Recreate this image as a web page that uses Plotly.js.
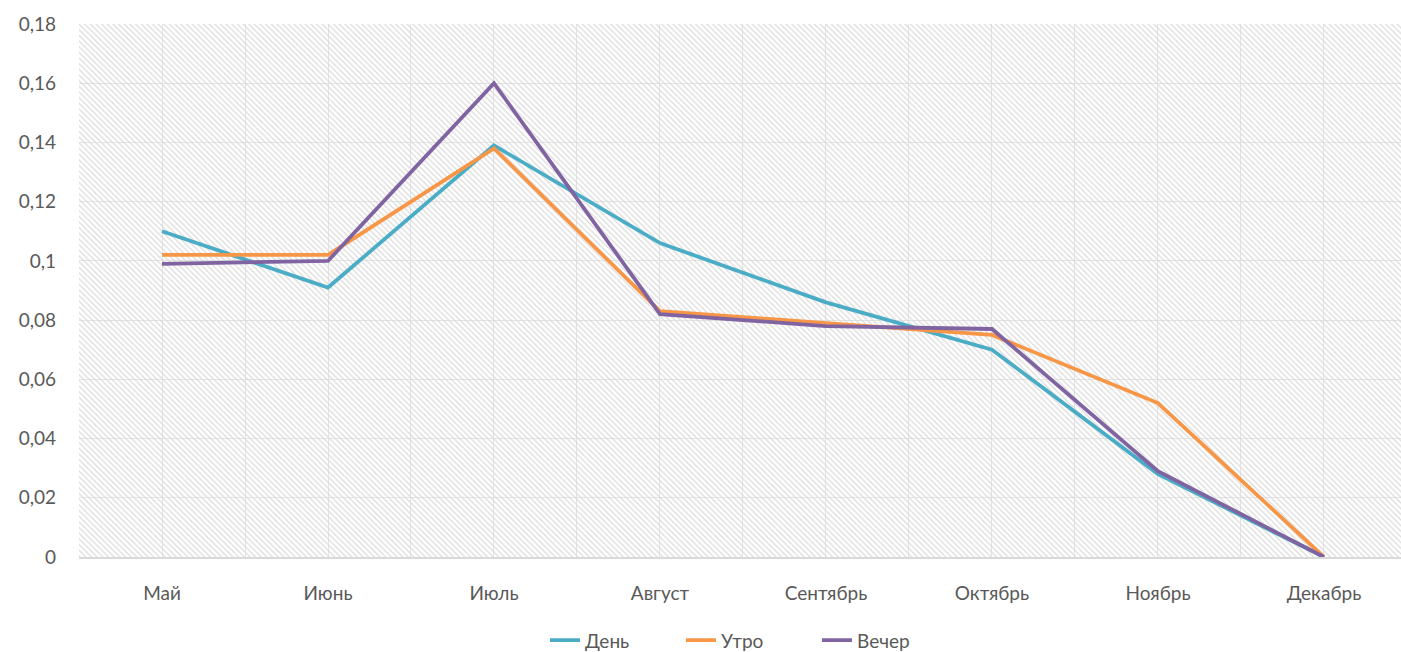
<!DOCTYPE html>
<html>
<head>
<meta charset="utf-8">
<script src="https://cdn.plot.ly/plotly-3.0.1.min.js"></script>
<style>html,body{margin:0;padding:0;background:#fff;}#chart{width:1401px;height:652px;}</style>
</head>
<body>
<div id="chart"></div>
<script>
const months = ["Май","Июнь","Июль","Август","Сентябрь","Октябрь","Ноябрь","Декабрь"];
const den   = [0.110, 0.091, 0.139, 0.106, 0.086, 0.070, 0.028, 0.000];
const utro  = [0.102, 0.102, 0.138, 0.083, 0.079, 0.075, 0.052, 0.000];
const vecher= [0.099, 0.100, 0.160, 0.082, 0.078, 0.077, 0.029, 0.000];
const yTickVals = [0, 0.02, 0.04, 0.06, 0.08, 0.1, 0.12, 0.14, 0.16, 0.18];
const yTickText = ["0","0,02","0,04","0,06","0,08","0,1","0,12","0,14","0,16","0,18"];

const xMin = -0.5, xMax = 7.464, yMin = 0, yMax = 0.18;
const font = {family: "Lato, Open Sans, sans-serif", size: 19, color: "#595959"};
const grid = "#e3e3e3";

const bg = {
  x: [xMin, xMax, xMax, xMin, xMin], y: [yMin, yMin, yMax, yMax, yMin],
  xaxis: "x", yaxis: "y", mode: "lines", fill: "toself",
  line: {width: 0, color: "rgba(0,0,0,0)"},
  fillcolor: "rgba(0,0,0,0)",
  fillpattern: {shape: "\\", size: 4, solidity: 0.3, fgcolor: "#dadada", bgcolor: "rgba(0,0,0,0)"},
  hoverinfo: "skip", showlegend: false
};
function series(name, vals, color) {
  return {x: months, y: vals, name: name, xaxis: "x2", yaxis: "y", mode: "lines",
          line: {color: color, width: 3.8}};
}
const data = [bg,
  series("День", den, "#4bacc6"),
  series("Утро", utro, "#f79646"),
  series("Вечер", vecher, "#8064a2")];

const layout = {
  width: 1401, height: 652,
  margin: {l: 79, r: 0, t: 24, b: 95},
  paper_bgcolor: "#fff", plot_bgcolor: "#fff",
  font: font,
  showlegend: true,
  legend: {orientation: "h", xref: "container", yref: "container", x: 0.389, y: 0.018,
           xanchor: "left", yanchor: "middle", font: font, entrywidth: 91, tracegroupgap: 0},
  xaxis: {type: "linear", range: [xMin, xMax], tick0: -0.5, dtick: 1, showgrid: true, gridcolor: grid,
          gridwidth: 1, showticklabels: false, zeroline: false, ticks: "", fixedrange: true},
  xaxis2: {type: "category", overlaying: "x", side: "bottom", range: [xMin, xMax], showgrid: true,
           gridcolor: grid, gridwidth: 1, showline: true, linecolor: "#d9d9d9", linewidth: 1.5,
           ticks: "", tickfont: font, ticklabelstandoff: 19, zeroline: false},
  yaxis: {range: [yMin, yMax], tickmode: "array", tickvals: yTickVals, ticktext: yTickText,
          showgrid: true, gridcolor: grid, gridwidth: 1, zeroline: false, ticks: "",
          tickfont: font, ticklabelstandoff: 22, showline: false}
};
Plotly.newPlot("chart", data, layout, {displayModeBar: false, staticPlot: true});
</script>
</body>
</html>
